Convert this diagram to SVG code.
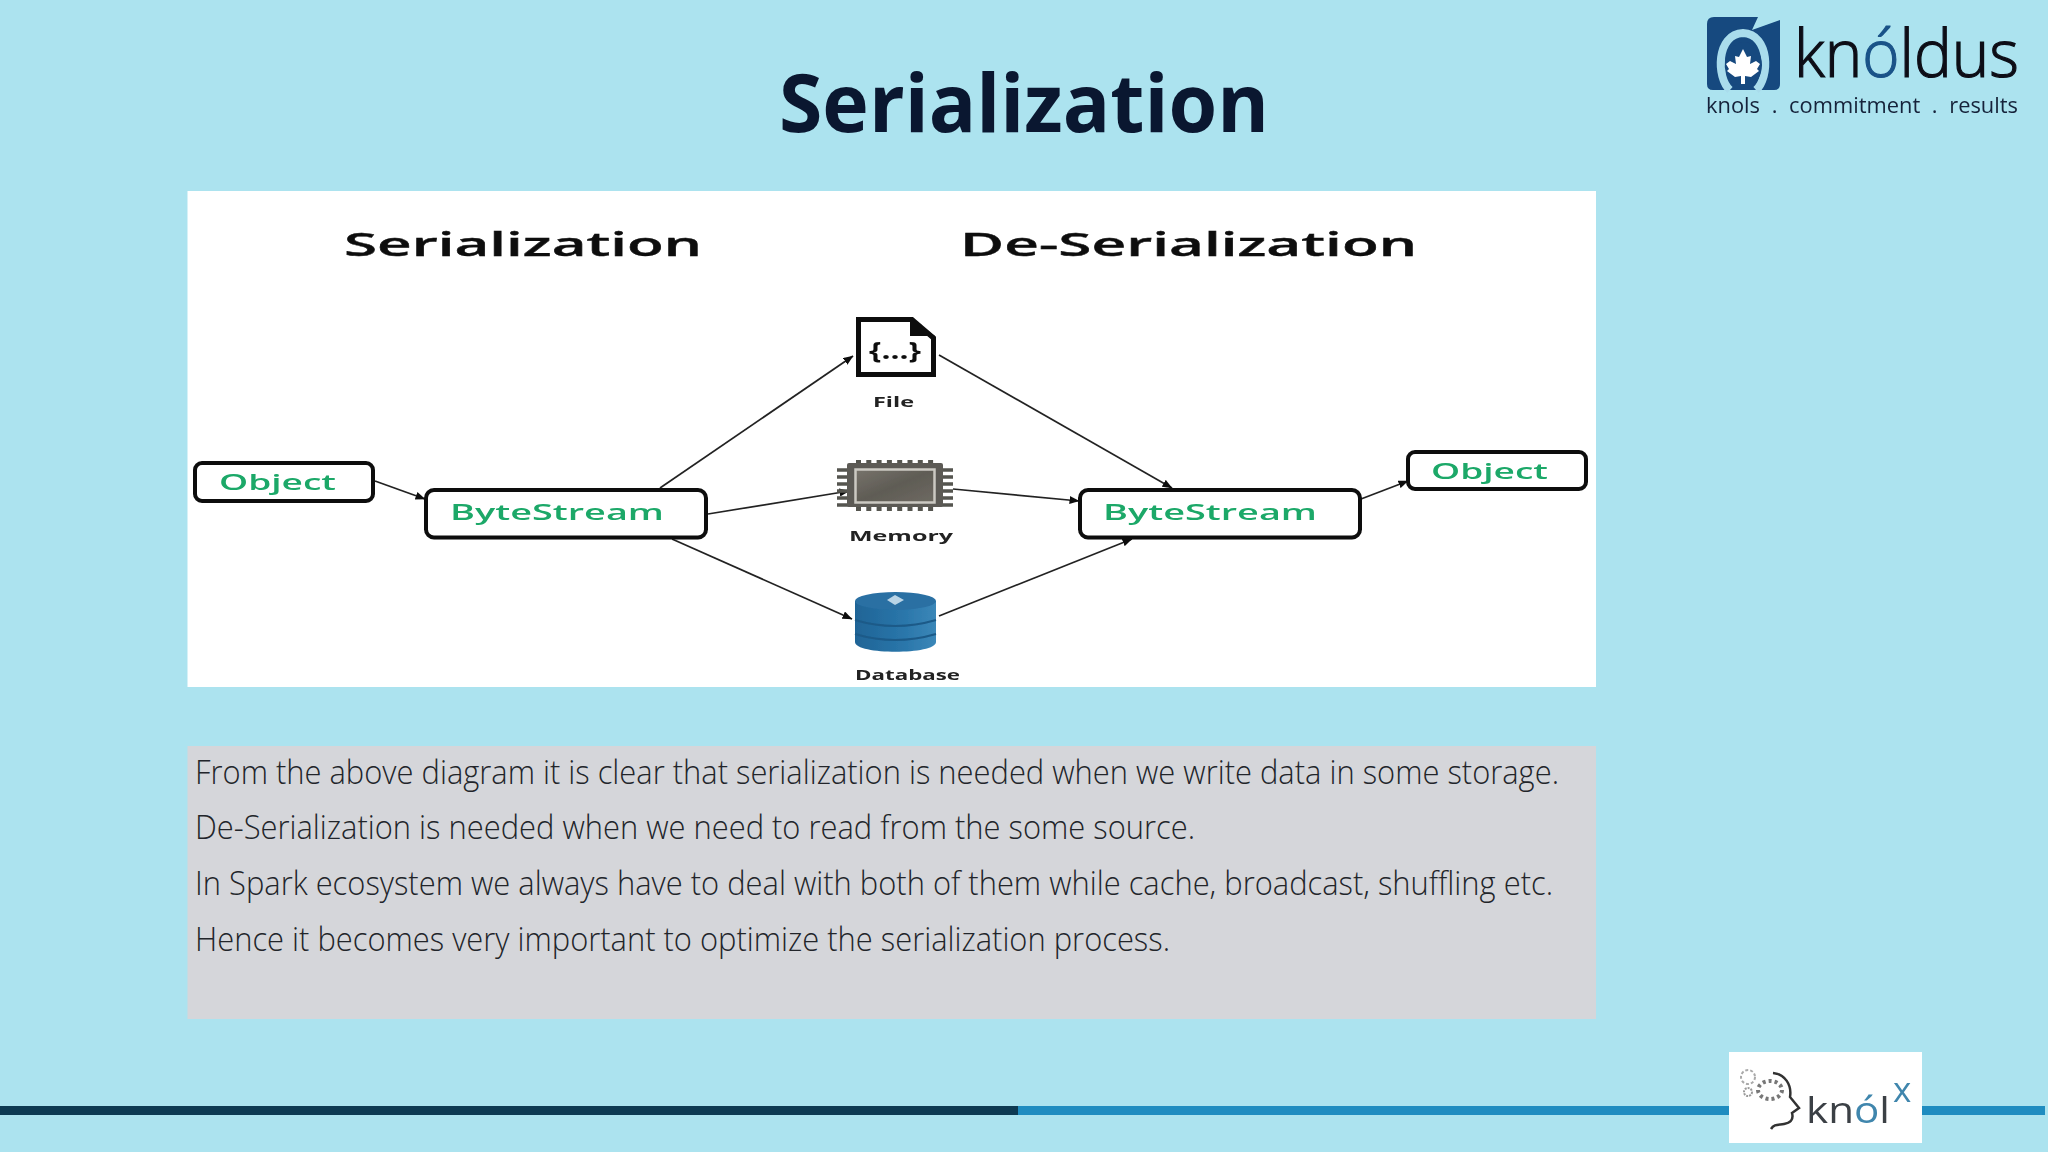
<svg xmlns="http://www.w3.org/2000/svg" width="2048" height="1152" viewBox="0 0 2048 1152">
<style>
.sans{font-family:"Open Sans","Liberation Sans",sans-serif}
.head{font-weight:600;font-size:33px;fill:#111;stroke:#111;stroke-width:.4}
.box{fill:#fff;stroke:#0c0c0c;stroke-width:4}
.lbl{font-weight:600;font-size:21px;fill:#1aa868}
.cap{font-weight:700;font-size:14px;fill:#222}
.body{font-weight:300;font-size:32.5px;fill:#22252a}
.c{stroke:#222;stroke-width:1.7;fill:none;marker-end:url(#a)}
.soft{filter:url(#s)}
</style>
<defs>
<filter id="s" x="-5%" y="-5%" width="110%" height="110%"><feGaussianBlur stdDeviation="0.6"/></filter>
<marker id="a" viewBox="0 0 10 8" refX="9.5" refY="4" markerWidth="10" markerHeight="8" markerUnits="userSpaceOnUse" orient="auto"><path d="M0 0L10 4L0 8Z" fill="#111"/></marker>
<linearGradient id="db" x1="0" x2="1" y1="0" y2="0"><stop offset="0" stop-color="#1f6496"/><stop offset=".6" stop-color="#2a76aa"/><stop offset="1" stop-color="#3b87b8"/></linearGradient>
<linearGradient id="chip" x1="0" x2="1" y1="0" y2="1"><stop offset="0" stop-color="#77736b"/><stop offset=".5" stop-color="#5f5c55"/><stop offset="1" stop-color="#6e6a62"/></linearGradient>
</defs>
<rect width="2048" height="1152" fill="#ace3ef"/>
<text id="title" class="sans" x="779" y="132" font-size="81" font-weight="700" fill="#0a1730" textLength="490" lengthAdjust="spacingAndGlyphs">Serialization</text>

<g id="logo-knoldus" class="soft">
<path d="M1714 17H1758L1752 30L1780 20V84Q1780 90 1774 90H1713Q1707 90 1707 84V24Q1707 17 1714 17Z" fill="#14487f"/>
<path d="M1730 90C1716 78 1716 34 1743 33C1770 34 1770 78 1756 90" fill="none" stroke="#a9dcec" stroke-width="8"/>
<ellipse cx="1744" cy="65" rx="18" ry="23" fill="#14487f"/>
<path d="M1743 49L1747 57L1751 56L1750 64L1756 61L1760 64L1757 69L1759 71L1751 77L1745 76V84H1741V76L1735 77L1727 71L1729 69L1726 64L1730 61L1736 64L1735 56L1739 57Z" fill="#fff"/>
<text class="sans" x="1794" y="77" font-size="66" font-weight="300" stroke="#0b0f18" stroke-width="1.200" fill="#0b0f18" textLength="225" lengthAdjust="spacingAndGlyphs">kn<tspan fill="#1a5288" stroke="#1a5288">ó</tspan>ldus</text>
<text class="sans" x="1706" y="113" font-size="22" fill="#15233a" word-spacing="6" textLength="312" lengthAdjust="spacingAndGlyphs">knols . commitment . results</text>
</g>

<rect id="panel" x="187.500" y="191" width="1408.500" height="496" fill="#fff"/>
<g class="soft">
<text class="sans head" x="344" y="256" textLength="358" lengthAdjust="spacingAndGlyphs">Serialization</text>
<text class="sans head" x="960" y="256" textLength="457" lengthAdjust="spacingAndGlyphs">De-Serialization</text>

<g id="connectors">
<path class="c" d="M375 481L425 499"/>
<path class="c" d="M660 488L853 356"/>
<path class="c" d="M708 514L849 491"/>
<path class="c" d="M672 539L852 619"/>
<path class="c" d="M939 355L1172 488"/>
<path class="c" d="M953 489L1079 501"/>
<path class="c" d="M939 616L1132 539"/>
<path class="c" d="M1361 499L1408 481"/>
</g>

<g id="object-left">
<rect class="box" x="195" y="463" width="178" height="38" rx="7"/>
<text class="sans lbl" x="219" y="490" textLength="117" lengthAdjust="spacingAndGlyphs">Object</text>
</g>
<g id="bytestream-left">
<rect class="box" x="426" y="490" width="280" height="47.500" rx="8"/>
<text class="sans lbl" x="450" y="520" textLength="214" lengthAdjust="spacingAndGlyphs">ByteStream</text>
</g>
<g id="file">
<path d="M858.500 319.500H912L933.500 338V374.500H858.500Z" fill="#fff" stroke="#0a0a0a" stroke-width="5"/>
<path d="M910 318L935 336H910Z" fill="#0a0a0a"/>
<text class="sans" x="895" y="359" font-size="24" font-weight="700" fill="#111" text-anchor="middle" textLength="52" lengthAdjust="spacingAndGlyphs">{...}</text>
<text class="sans cap" x="873" y="407" textLength="41" lengthAdjust="spacingAndGlyphs">File</text>
</g>
<g id="memory">
<path d="M856 464.500H936M856 506.500H936" stroke="#55554f" stroke-width="9" stroke-dasharray="5 5.300" fill="none"/>
<path d="M837 470H849M837 477H849M837 484H849M837 491H849M837 498H849M837 505H849M941 470H953M941 477H953M941 484H953M941 491H953M941 498H953M941 505H953" stroke="#55554f" stroke-width="3.500" fill="none"/>
<rect x="847" y="463" width="96" height="44" fill="#5b5a55" rx="2"/>
<rect x="855.500" y="469.500" width="79" height="33" fill="url(#chip)" stroke="#cbc9c2" stroke-width="2.500"/>
<text class="sans cap" x="849" y="541" textLength="104" lengthAdjust="spacingAndGlyphs">Memory</text>
</g>
<g id="database">
<path d="M855 601V642C855 655 936 655 936 642V601Z" fill="url(#db)"/>
<ellipse cx="895.500" cy="601" rx="40.500" ry="9" fill="#2a6fa3"/>
<path d="M855 620Q895 632 936 620M855 634Q895 646 936 634" fill="none" stroke="#1d5a88" stroke-width="2"/>
<path d="M887 600L895 595L904 600L895 605Z" fill="#b9d4e6"/>
<text class="sans cap" x="855" y="680" textLength="105" lengthAdjust="spacingAndGlyphs">Database</text>
</g>
<g id="bytestream-right">
<rect class="box" x="1080" y="490" width="280" height="47.500" rx="8"/>
<text class="sans lbl" x="1103" y="520" textLength="214" lengthAdjust="spacingAndGlyphs">ByteStream</text>
</g>
<g id="object-right">
<rect class="box" x="1408" y="452" width="178" height="37" rx="7"/>
<text class="sans lbl" x="1431" y="479" textLength="117" lengthAdjust="spacingAndGlyphs">Object</text>
</g>
</g>

<g id="note">
<rect x="187.500" y="746" width="1408.500" height="273" fill="#d5d6da"/>
<text class="sans body" x="195" y="784" textLength="1364" lengthAdjust="spacingAndGlyphs">From the above diagram it is clear that serialization is needed when we write data in some storage.</text>
<text class="sans body" x="195" y="839" textLength="1000" lengthAdjust="spacingAndGlyphs">De-Serialization is needed when we need to read from the some source.</text>
<text class="sans body" x="195" y="895" textLength="1358" lengthAdjust="spacingAndGlyphs">In Spark ecosystem we always have to deal with both of them while cache, broadcast, shuffling etc.</text>
<text class="sans body" x="195" y="951" textLength="975" lengthAdjust="spacingAndGlyphs">Hence it becomes very important to optimize the serialization process.</text>
</g>

<g id="footer">
<rect x="0" y="1106" width="1018" height="9" fill="#0d3a52"/>
<rect x="1018" y="1106" width="1027" height="9" fill="#1f8cc0"/>
<rect x="1729" y="1052" width="193" height="91" fill="#fff"/>
<g class="soft">
<path d="M1773 1073C1785 1074 1792 1085 1790 1097L1799 1108L1792 1113C1794 1120 1790 1123 1784 1124C1778 1125 1774 1124 1771 1129" fill="none" stroke="#333" stroke-width="2.500"/>
<ellipse cx="1770" cy="1090" rx="12" ry="9" fill="none" stroke="#777" stroke-width="4" stroke-dasharray="3 3"/>
<circle cx="1748" cy="1092" r="4" fill="none" stroke="#999" stroke-width="2" stroke-dasharray="2 1"/>
<circle cx="1748" cy="1077" r="7" fill="none" stroke="#aaa" stroke-width="2" stroke-dasharray="3 2"/>
<text class="sans" x="1806" y="1123" font-size="37" fill="#3a3f45" textLength="84" lengthAdjust="spacingAndGlyphs">kn<tspan fill="#3f86ad">ó</tspan>l</text>
<text class="sans" x="1893" y="1102" font-size="35" fill="#3f86ad">x</text>
</g>
</g>
</svg>
